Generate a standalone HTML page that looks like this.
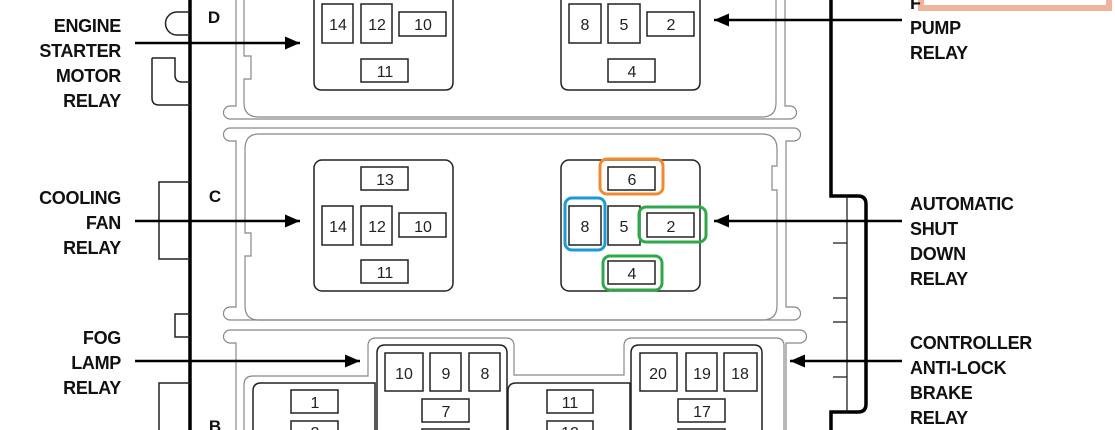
<!DOCTYPE html>
<html><head><meta charset="utf-8"><style>
html,body{margin:0;padding:0;background:#fff;width:1115px;height:430px;overflow:hidden}
svg{display:block}
.lb{font-family:"Liberation Sans",sans-serif;font-weight:bold;font-size:18px;letter-spacing:-0.3px;fill:#111}
.n{font-family:"Liberation Sans",sans-serif;font-size:16px;fill:#222;text-anchor:middle}
.sl{font-family:"Liberation Sans",sans-serif;font-weight:bold;font-size:17px;fill:#111;text-anchor:middle}
.g{fill:none;stroke:#888;stroke-width:1.2}
.b{fill:none;stroke:#222;stroke-width:1.5}
</style></head><body>
<svg width="1115" height="430" viewBox="0 0 1115 430" xmlns="http://www.w3.org/2000/svg">
<defs><marker id="ah" markerWidth="16" markerHeight="14" refX="15" refY="7" orient="auto" markerUnits="userSpaceOnUse"><path d="M0,0.5 L15,7 L0,13.5 Z" fill="#000"/></marker></defs>
<rect x="921" y="-10" width="188" height="18" fill="#fff" stroke="#efb49c" stroke-width="6"/>
<line x1="190" y1="0" x2="190" y2="430" stroke="#000" stroke-width="3.5"/>
<path d="M190,12 H177 A11,11 0 0 0 177,35 H190" class="b"/>
<path d="M152,58 H175 V75 Q175,82 182,82 H190 M152,58 V98 Q152,105 159,105 H190" class="b"/>
<path d="M190,182 H159 V259 H190" class="b"/>
<path d="M190,314 H175 V337 H190" class="b"/>
<path d="M190,383 H159 V430" class="b"/>
<path d="M831,0 V196 H858 Q866,196 866,204 V404 Q866,412 858,412 H831 V430" fill="none" stroke="#000" stroke-width="3.5"/>
<line x1="847" y1="197" x2="847" y2="411" stroke="#222" stroke-width="1.3"/>
<g stroke="#222" stroke-width="1.3"><line x1="833" y1="243" x2="847" y2="243"/><line x1="833" y1="298" x2="847" y2="298"/><line x1="833" y1="322" x2="847" y2="322"/><line x1="833" y1="377" x2="847" y2="377"/></g>
<path class="g" d="M236,0 V106 H230 A6.5,6.5 0 0 0 230,119 H790 A6.5,6.5 0 0 0 790,106 H785 V0"/>
<path class="g" d="M244,0 V56 H251 V79 H244 V103 Q244,117 259,117 H762 Q776,117 776,103 V0"/>
<path class="g" d="M230,128 A6.5,6.5 0 0 0 230,141 H236 V307 H230 A6.5,6.5 0 0 0 230,320 H794 A6.5,6.5 0 0 0 794,307 H786 V141 H794 A6.5,6.5 0 0 0 794,128 Z"/>
<path class="g" d="M259,134 H762 Q777,134 777,149 V166 H772 V190 H777 V306 Q777,320 762,320 H259 Q245,320 245,306 V256 H251 V233 H245 V149 Q245,134 259,134 Z"/>
<path class="g" d="M230,330 A6.5,6.5 0 0 0 230,343 H236 V430 M230,330 H800 A6.5,6.5 0 0 1 800,343 H786 V430"/>
<path class="g" d="M244,430 V385 Q244,376 253,376 H368 V346 Q368,338 376,338 H506 Q514,338 514,346 V375 H624 V346 Q624,338 632,338 H776 Q784,338 784,346 V430"/>
<path class="b" d="M314,0 V82 Q314,90 322,90 H445 Q453,90 453,82 V0"/>
<path class="b" d="M561,0 V82 Q561,90 569,90 H692 Q700,90 700,82 V0"/>
<rect x="314" y="160" width="139" height="131" rx="8" class="b"/>
<rect x="561" y="160" width="139" height="131" rx="8" class="b"/>
<path class="b" d="M253,430 V391 Q253,383 261,383 H375 V430"/>
<path class="b" d="M377,430 V353 Q377,345 385,345 H499 Q507,345 507,353 V430"/>
<path class="b" d="M508,430 V391 Q508,383 516,383 H630 V430"/>
<path class="b" d="M631,430 V353 Q631,345 639,345 H754 Q762,345 762,353 V430"/>
<g class="b">
<rect x="322" y="4" width="31" height="39"/><rect x="361" y="4" width="31" height="39"/><rect x="399" y="12" width="47" height="24"/><rect x="361" y="59" width="47" height="23"/>
<rect x="569" y="4" width="32" height="39"/><rect x="608" y="4" width="32" height="39"/><rect x="647" y="12" width="47" height="24"/><rect x="608" y="59" width="47" height="23"/>
<rect x="361" y="167" width="47" height="23"/><rect x="322" y="206" width="31" height="39"/><rect x="361" y="206" width="31" height="39"/><rect x="399" y="213" width="47" height="24"/><rect x="361" y="260" width="47" height="23"/>
<rect x="608" y="167" width="47" height="23"/><rect x="569" y="206" width="32" height="39"/><rect x="608" y="206" width="32" height="39"/><rect x="647" y="213" width="47" height="24"/><rect x="608" y="261" width="47" height="23"/>
<rect x="385" y="353" width="38" height="38"/><rect x="430" y="353" width="31" height="38"/><rect x="469" y="353" width="31" height="38"/><rect x="422" y="399" width="47" height="23"/><rect x="422" y="429" width="47" height="10"/>
<rect x="291" y="390" width="47" height="23"/><rect x="291" y="421" width="47" height="20"/>
<rect x="547" y="390" width="46" height="23"/><rect x="547" y="421" width="46" height="20"/>
<rect x="640" y="353" width="37" height="38"/><rect x="686" y="353" width="31" height="38"/><rect x="724" y="353" width="33" height="38"/><rect x="678" y="399" width="47" height="23"/><rect x="678" y="429" width="47" height="10"/>
</g>
<g class="n">
<text x="338" y="30">14</text><text x="377" y="30">12</text><text x="423" y="30">10</text><text x="385" y="77">11</text>
<text x="585" y="30">8</text><text x="624" y="30">5</text><text x="671" y="30">2</text><text x="632" y="77">4</text>
<text x="385" y="185">13</text><text x="338" y="232">14</text><text x="377" y="232">12</text><text x="423" y="232">10</text><text x="385" y="278">11</text>
<text x="632" y="185">6</text><text x="585" y="232">8</text><text x="624" y="232">5</text><text x="671" y="232">2</text><text x="632" y="279">4</text>
<text x="404" y="379">10</text><text x="446" y="379">9</text><text x="485" y="379">8</text><text x="446" y="417">7</text>
<text x="315" y="408">1</text><text x="315" y="438">2</text><text x="570" y="408">11</text><text x="570" y="438">12</text>
<text x="658" y="379">20</text><text x="702" y="379">19</text><text x="740" y="379">18</text><text x="702" y="417">17</text>
</g>
<rect x="600" y="159" width="63" height="35" rx="7" fill="none" stroke="#f08a30" stroke-width="3"/>
<rect x="565" y="198" width="40" height="52" rx="7" fill="none" stroke="#1a9ad6" stroke-width="3"/>
<rect x="639" y="207" width="67" height="35" rx="7" fill="none" stroke="#2ea84a" stroke-width="3"/>
<rect x="603" y="256" width="59" height="34" rx="7" fill="none" stroke="#2ea84a" stroke-width="3"/>
<text class="sl" x="214" y="23">D</text><text class="sl" x="215" y="202">C</text><text class="sl" x="215" y="432">B</text>
<g stroke="#000" stroke-width="2.5" marker-end="url(#ah)">
<line x1="135" y1="43" x2="300" y2="43"/>
<line x1="135" y1="221" x2="300" y2="221"/>
<line x1="135" y1="361" x2="360" y2="361"/>
<line x1="902" y1="20" x2="714" y2="20"/>
<line x1="902" y1="221" x2="714" y2="221"/>
<line x1="902" y1="361" x2="790" y2="361"/>
</g>
<g class="lb" text-anchor="end">
<text x="121" y="32">ENGINE</text><text x="121" y="57">STARTER</text><text x="121" y="82">MOTOR</text><text x="121" y="107">RELAY</text>
<text x="121" y="204">COOLING</text><text x="121" y="229">FAN</text><text x="121" y="254">RELAY</text>
<text x="121" y="344">FOG</text><text x="121" y="369">LAMP</text><text x="121" y="394">RELAY</text>
</g>
<g class="lb">
<text x="910" y="9">F</text><text x="910" y="34">PUMP</text><text x="910" y="59">RELAY</text>
<text x="910" y="210">AUTOMATIC</text><text x="910" y="235">SHUT</text><text x="910" y="260">DOWN</text><text x="910" y="285">RELAY</text>
<text x="910" y="349">CONTROLLER</text><text x="910" y="374">ANTI-LOCK</text><text x="910" y="399">BRAKE</text><text x="910" y="424">RELAY</text>
</g>
</svg>
</body></html>
